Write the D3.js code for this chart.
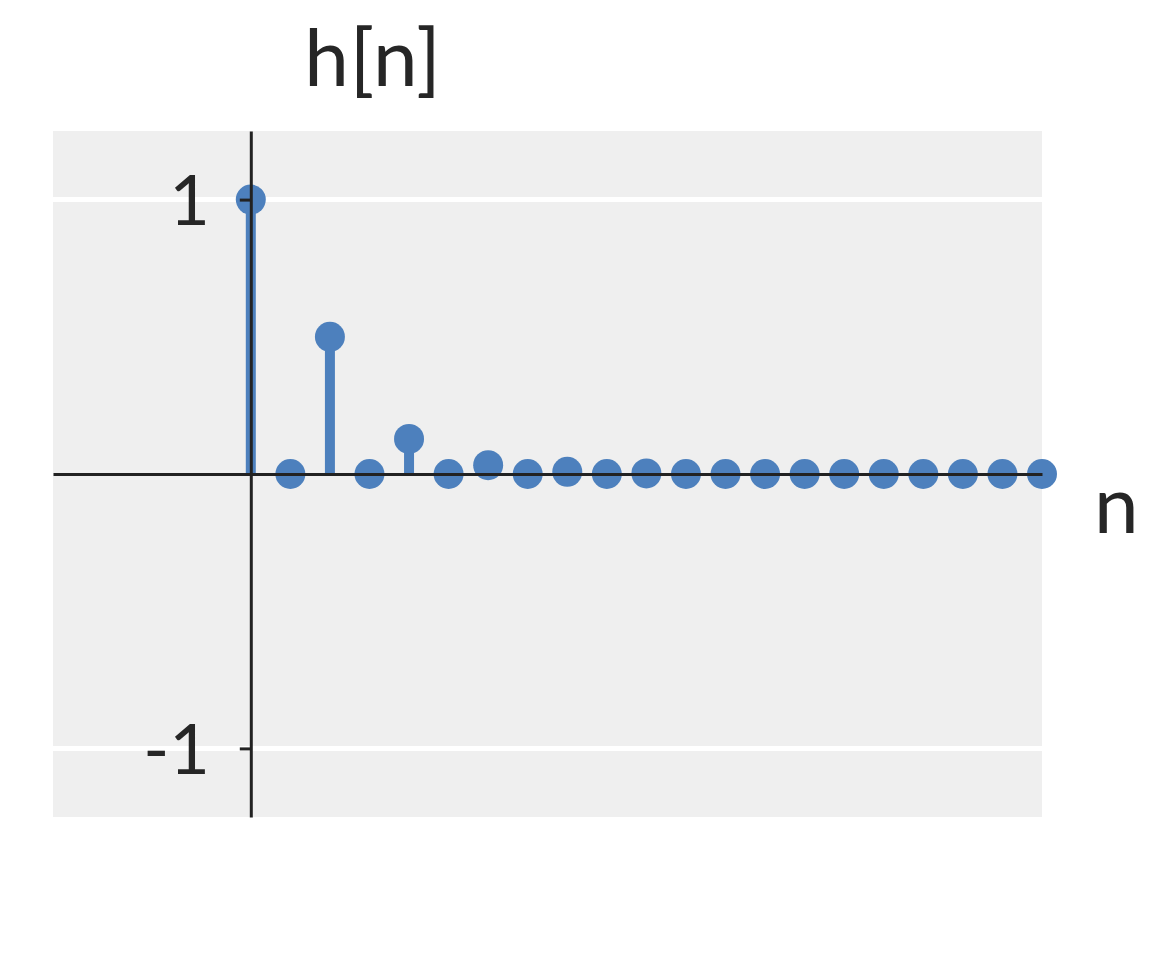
<!DOCTYPE html>
<html>
<head>
<meta charset="utf-8">
<script src="https://d3js.org/d3.v7.min.js"></script>
<style>
  body { margin: 0; background: #fff; }
  text { font-family: Lato, "Open Sans", sans-serif; fill: #262626; }
  .axis path, .axis line { stroke: #222; stroke-width: 3; }
  .grid line { stroke: #fff; stroke-width: 5; }
</style>
</head>
<body>
<svg id="chart" width="1152" height="960"></svg>
<script>
// data
var nValues = d3.range(0, 21);
var hValues = [1, 0, 0.5, 0, 0.128, 0, 0.032, 0, 0.008, 0, 0.002, 0, 0, 0, 0, 0, 0, 0, 0, 0, 0];
var yTicks = [-1, 1];
var yTickLabels = ["-1", "1"];
var xDomain = [-5, 20];
var yDomain = [-1.25, 1.25];

var svg = d3.select("#chart");
var stemColor = "#4d80bd";

var x = d3.scaleLinear().domain(xDomain).range([53, 1042]);
var y = d3.scaleLinear().domain(yDomain).range([817, 131]);

// plot background
svg.append("rect")
  .attr("x", x(xDomain[0]))
  .attr("y", y(yDomain[1]))
  .attr("width", x(xDomain[1]) - x(xDomain[0]))
  .attr("height", y(yDomain[0]) - y(yDomain[1]))
  .attr("fill", "#efefef");

// grid lines
svg.append("g").attr("class", "grid")
  .selectAll("line")
  .data(yTicks)
  .enter().append("line")
  .attr("x1", x(xDomain[0]))
  .attr("x2", x(xDomain[1]))
  .attr("y1", function(d) { return y(d); })
  .attr("y2", function(d) { return y(d); });

var pts = nValues.map(function(n, i) { return {n: n, h: hValues[i]}; });

// stems
svg.append("g").selectAll("line")
  .data(pts)
  .enter().append("line")
  .attr("x1", function(d) { return x(d.n); })
  .attr("x2", function(d) { return x(d.n); })
  .attr("y1", y(0))
  .attr("y2", function(d) { return y(d.h); })
  .attr("stroke", stemColor)
  .attr("stroke-width", 10);

// markers
svg.append("g").selectAll("circle")
  .data(pts)
  .enter().append("circle")
  .attr("cx", function(d) { return x(d.n); })
  .attr("cy", function(d) { return y(d.h); })
  .attr("r", 15)
  .attr("fill", stemColor);

// x axis through zero
var xAxis = svg.append("g")
  .attr("class", "axis")
  .attr("transform", "translate(0," + y(0) + ")")
  .call(d3.axisBottom(x).tickValues([]).tickSizeOuter(0));

// y axis through zero
var yAxis = svg.append("g")
  .attr("class", "axis")
  .attr("transform", "translate(" + x(0) + ",0)")
  .call(d3.axisLeft(y).tickValues(yTicks).tickSize(11).tickSizeOuter(0).tickPadding(30)
    .tickFormat(function(d, i) { return yTickLabels[i]; }));

yAxis.selectAll(".tick text")
  .style("font-size", "70px")
  .attr("dy", "0.36em")
  .attr("fill", "#262626");

// labels
svg.append("text")
  .attr("x", 373)
  .attr("y", 86)
  .attr("text-anchor", "middle")
  .attr("letter-spacing", "1px")
  .style("font-size", "80px")
  .text("h[n]");

svg.append("text")
  .attr("x", 1094)
  .attr("y", 533)
  .style("font-size", "80px")
  .text("n");
</script>
</body>
</html>
